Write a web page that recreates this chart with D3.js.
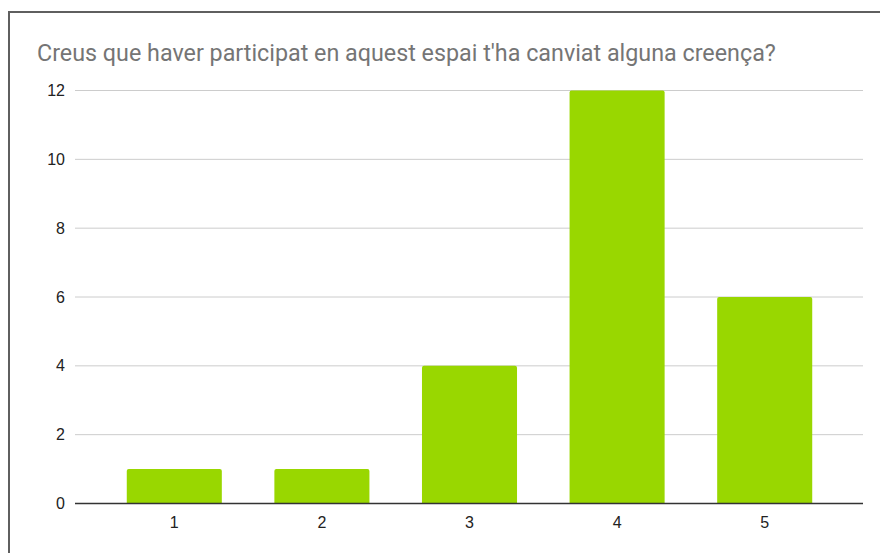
<!DOCTYPE html>
<html><head><meta charset="utf-8">
<script src="https://cdn.jsdelivr.net/npm/d3@7"></script>
<style>body{margin:0;background:#fff}svg{display:block}</style>
</head><body>
<svg id="c" width="880" height="553"></svg>
<script>
const categories = ["1","2","3","4","5"];
const values = [1,1,4,12,6];
const yTicks = [0,2,4,6,8,10,12];
const title = "Creus que haver participat en aquest espai t'ha canviat alguna creença?";

const svg = d3.select("#c");
svg.append("rect").attr("x",9).attr("y",12).attr("width",900).attr("height",600)
  .attr("fill","#fff").attr("stroke","#5f5f5f").attr("stroke-width",2);

svg.append("text").attr("x",37).attr("y",61).text(title)
  .attr("font-family","Roboto, sans-serif").attr("font-size",23.3).attr("fill","#757575");

const y = d3.scaleLinear().domain([0,12]).range([503.5,90.5]);
const x = d3.scaleBand().domain(categories).range([100.5,838.5]).paddingInner(0.356).paddingOuter(0.178);

const grid = svg.append("g");
grid.selectAll("line").data(yTicks.filter(d=>d>0)).join("line")
  .attr("x1",75).attr("x2",863).attr("y1",d=>y(d)).attr("y2",d=>y(d))
  .attr("stroke","#cccccc").attr("stroke-width",1);

const yAxis = d3.axisLeft(y).tickValues(yTicks).tickSize(0).tickPadding(10);
const ga = svg.append("g").attr("transform","translate(75,0)").call(yAxis);
ga.select(".domain").remove();
ga.selectAll("text").attr("font-family","'Liberation Sans', Arial, sans-serif").attr("font-size",16).attr("fill","#222");

const r = 2;
svg.append("g").selectAll("path").data(values).join("path")
  .attr("fill","#99d700")
  .attr("d",(d,i)=>{
    const x0 = x(categories[i]), w = x.bandwidth(), y0 = y(d), yb = y(0);
    return `M${x0},${yb}V${y0+r}Q${x0},${y0} ${x0+r},${y0}H${x0+w-r}Q${x0+w},${y0} ${x0+w},${y0+r}V${yb}Z`;
  });

svg.append("line").attr("x1",75).attr("x2",863).attr("y1",y(0)).attr("y2",y(0))
  .attr("stroke","#333").attr("stroke-width",1.5);

const xAxis = d3.axisBottom(x).tickSize(0).tickPadding(13);
const gx = svg.append("g").attr("transform",`translate(0,${y(0)})`).call(xAxis);
gx.select(".domain").remove();
gx.selectAll("text").attr("font-family","'Liberation Sans', Arial, sans-serif").attr("font-size",16).attr("fill","#222");
</script>
</body></html>
